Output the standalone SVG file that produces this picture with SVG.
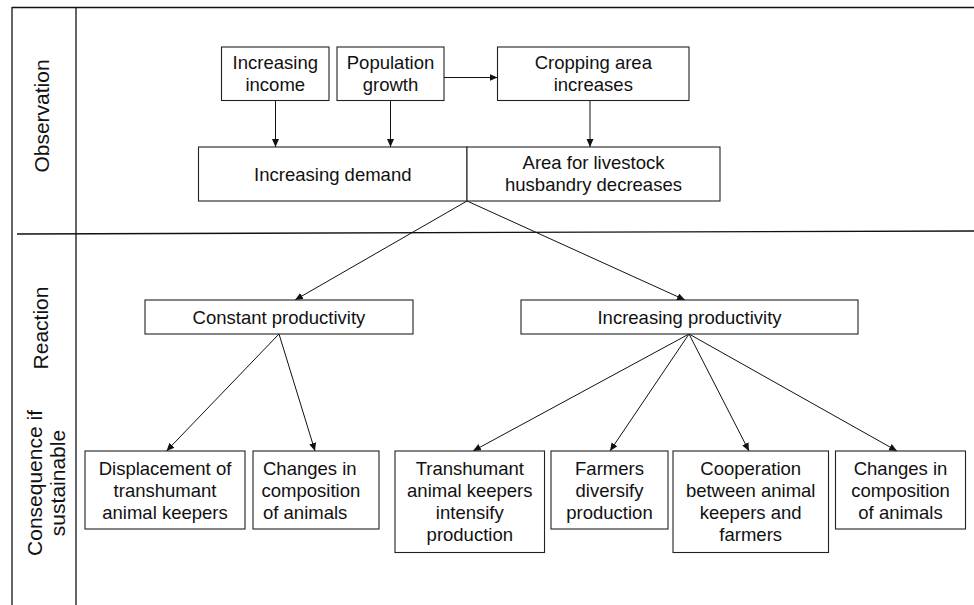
<svg xmlns="http://www.w3.org/2000/svg" width="974" height="605" viewBox="0 0 974 605">
<style>
.frame{stroke:#111;stroke-width:1.3;fill:none}
.box{fill:#fff;stroke:#222;stroke-width:1.1}
.t{font-family:"Liberation Sans",Arial,sans-serif;font-size:18.5px;fill:#111;text-anchor:middle}
.side{font-family:"Liberation Sans",Arial,sans-serif;font-size:21px;fill:#111;text-anchor:middle}
.conn line{stroke:#111;stroke-width:1;marker-end:url(#ah)}
</style>
<defs>
<marker id="ah" markerUnits="userSpaceOnUse" markerWidth="9" markerHeight="8" refX="8" refY="3.5" orient="auto">
<path d="M0,0 L8,3.5 L0,7 z" fill="#111"/>
</marker>
</defs>
<rect width="974" height="605" fill="#fff"/>
<g id="frame">
<line class="frame" x1="12" y1="7.5" x2="974" y2="7.5"/>
<line class="frame" x1="12" y1="7" x2="12" y2="605"/>
<line class="frame" x1="76" y1="7" x2="76" y2="605"/>
<line class="frame" x1="17" y1="234" x2="974" y2="231"/>
</g>
<g id="labels">
<text class="side" transform="translate(49,116) rotate(-90)">Observation</text>
<text class="side" transform="translate(48,328) rotate(-90)">Reaction</text>
<text class="side" transform="translate(42,483) rotate(-90)">Consequence if</text>
<text class="side" transform="translate(65,483) rotate(-90)">sustainable</text>
</g>
<g id="conn" class="conn">
<line x1="275.5" y1="100.5" x2="275.5" y2="147"/>
<line x1="390.5" y1="100.5" x2="390.5" y2="147"/>
<line x1="590" y1="100.5" x2="590" y2="147"/>
<line x1="444" y1="77.5" x2="497.5" y2="77.5"/>
<line x1="467" y1="201" x2="295" y2="300"/>
<line x1="467" y1="201" x2="685" y2="300"/>
<line x1="279" y1="334" x2="166.5" y2="451"/>
<line x1="279" y1="334" x2="315" y2="451"/>
<line x1="689" y1="334" x2="473" y2="451"/>
<line x1="689" y1="334" x2="610" y2="451"/>
<line x1="689" y1="334" x2="749" y2="451"/>
<line x1="689" y1="334" x2="897" y2="451"/>
</g>
<g id="n-income"><rect class="box" x="221.5" y="47" width="107.5" height="53.5"/>
<text class="t" x="275.3" y="69.3">Increasing</text><text class="t" x="275.3" y="91.3">income</text></g>
<g id="n-population"><rect class="box" x="337" y="47" width="107" height="53.5"/>
<text class="t" x="390.5" y="69.3">Population</text><text class="t" x="390.5" y="91.3">growth</text></g>
<g id="n-cropping"><rect class="box" x="497.5" y="47" width="191.5" height="53.5"/>
<text class="t" x="593.3" y="69.3">Cropping area</text><text class="t" x="593.3" y="91.3">increases</text></g>
<g id="n-demand"><rect class="box" x="198.5" y="147" width="268.5" height="54"/>
<text class="t" x="332.8" y="180.5">Increasing demand</text></g>
<g id="n-area"><rect class="box" x="467" y="147" width="253" height="54"/>
<text class="t" x="593.5" y="168.5">Area for livestock</text><text class="t" x="593.5" y="191">husbandry decreases</text></g>
<g id="n-constant"><rect class="box" x="145" y="300" width="268" height="34"/>
<text class="t" x="279" y="323.5">Constant productivity</text></g>
<g id="n-increasing"><rect class="box" x="521" y="300" width="337" height="34"/>
<text class="t" x="689.5" y="323.5">Increasing productivity</text></g>
<g id="n-displacement"><rect class="box" x="85" y="451" width="160" height="78"/>
<text class="t" x="165" y="474.5">Displacement of</text><text class="t" x="165" y="496.5">transhumant</text><text class="t" x="165" y="518.5">animal keepers</text></g>
<g id="n-changes-left"><rect class="box" x="253" y="451" width="126" height="78"/>
<text class="t" x="263" y="474.5" text-anchor="start" style="text-anchor:start">Changes in</text><text class="t" x="261.5" y="496.5" style="text-anchor:start">composition</text><text class="t" x="263" y="518.5" style="text-anchor:start">of animals</text></g>
<g id="n-transhumant"><rect class="box" x="395" y="451" width="149.5" height="101.5"/>
<text class="t" x="469.8" y="475.2">Transhumant</text><text class="t" x="469.8" y="497.2">animal keepers</text><text class="t" x="469.8" y="519.2">intensify</text><text class="t" x="469.8" y="541.2">production</text></g>
<g id="n-farmers"><rect class="box" x="551" y="451" width="117" height="78"/>
<text class="t" x="609.5" y="474.5">Farmers</text><text class="t" x="609.5" y="496.5">diversify</text><text class="t" x="609.5" y="518.5">production</text></g>
<g id="n-cooperation"><rect class="box" x="673" y="451" width="155.5" height="101.5"/>
<text class="t" x="750.7" y="475.2">Cooperation</text><text class="t" x="750.7" y="497.2">between animal</text><text class="t" x="750.7" y="519.2">keepers and</text><text class="t" x="750.7" y="541.2">farmers</text></g>
<g id="n-changes-right"><rect class="box" x="835.5" y="451" width="130" height="78"/>
<text class="t" x="900.5" y="474.5">Changes in</text><text class="t" x="900.5" y="496.5">composition</text><text class="t" x="900.5" y="518.5">of animals</text></g>
</svg>
